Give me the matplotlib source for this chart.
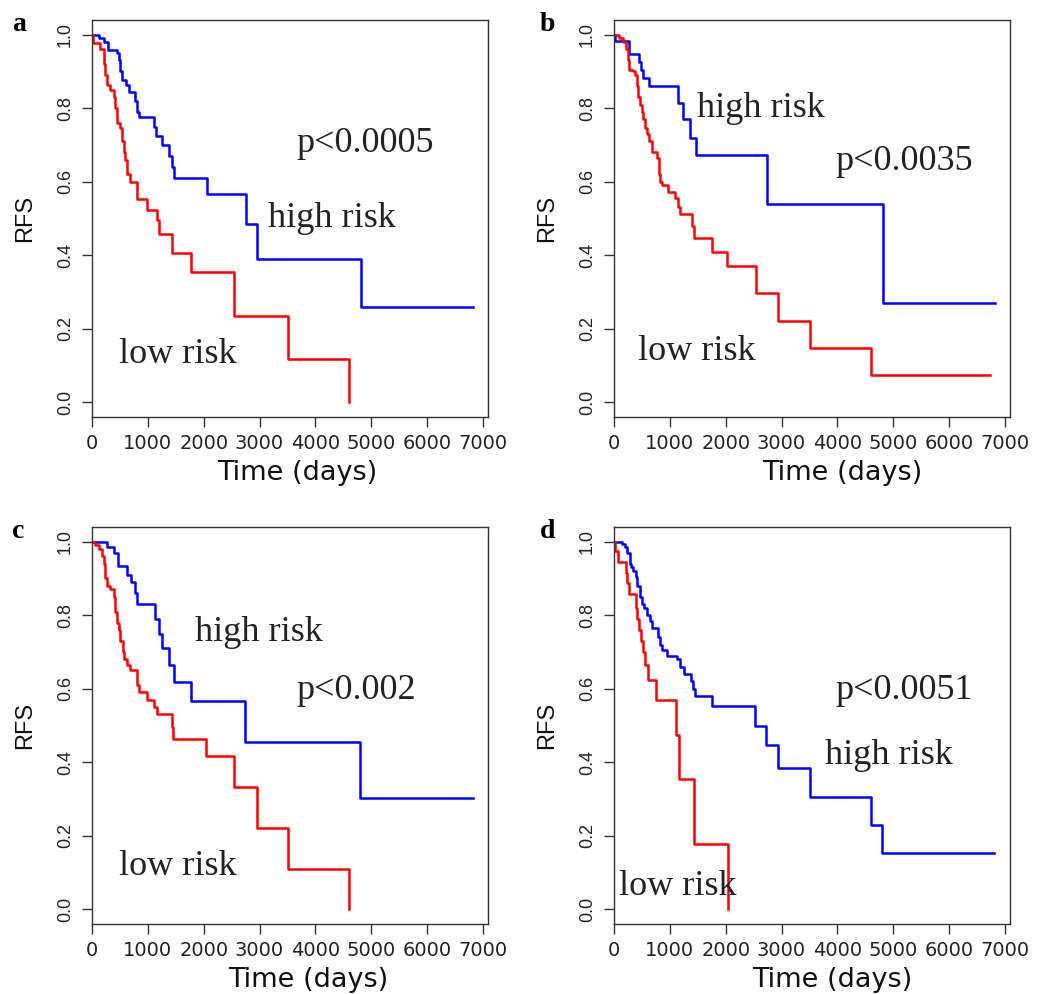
import matplotlib
matplotlib.use("Agg")
import matplotlib.pyplot as plt

# Kaplan-Meier step curves (time in days, RFS)
a_high_t = [0, 120, 210, 280, 447, 475, 505, 536, 600, 655, 775, 805, 834, 1102, 1144, 1250, 1370, 1430, 1470, 2055, 2752, 2949, 4813, 6821]
a_high_s = [1.0, 0.991, 0.98, 0.959, 0.95, 0.93, 0.90, 0.876, 0.863, 0.845, 0.82, 0.79, 0.775, 0.75, 0.725, 0.70, 0.67, 0.64, 0.61, 0.567, 0.485, 0.389, 0.26, 0.26]
a_low_t = [0, 10, 150, 210, 240, 268, 328, 387, 417, 447, 494, 536, 578, 595, 625, 685, 804, 983, 1162, 1191, 1430, 1775, 2550, 3515, 4605]
a_low_s = [1.0, 0.977, 0.96, 0.92, 0.89, 0.862, 0.85, 0.83, 0.80, 0.76, 0.745, 0.71, 0.68, 0.66, 0.62, 0.60, 0.552, 0.523, 0.495, 0.458, 0.407, 0.355, 0.236, 0.118, 0.0]

b_high_t = [0, 12, 274, 453, 483, 512, 631, 1150, 1239, 1364, 1465, 2734, 4818, 6813]
b_high_s = [1.0, 0.984, 0.948, 0.925, 0.905, 0.882, 0.86, 0.815, 0.77, 0.72, 0.672, 0.54, 0.27, 0.27]
b_low_t = [0, 95, 155, 214, 244, 274, 333, 375, 405, 435, 465, 494, 524, 560, 590, 631, 680, 762, 798, 822, 851, 971, 1084, 1137, 1185, 1405, 1435, 1763, 2031, 2537, 2936, 3508, 4604, 6724]
b_low_s = [1.0, 0.99, 0.98, 0.96, 0.93, 0.905, 0.90, 0.89, 0.86, 0.83, 0.81, 0.79, 0.77, 0.745, 0.73, 0.71, 0.68, 0.665, 0.62, 0.60, 0.59, 0.572, 0.555, 0.532, 0.512, 0.48, 0.447, 0.41, 0.37, 0.297, 0.222, 0.148, 0.074, 0.074]

c_high_t = [0, 268, 399, 459, 625, 697, 762, 804, 1132, 1191, 1251, 1370, 1471, 1775, 2740, 4807, 6821]
c_high_s = [1.0, 0.985, 0.97, 0.935, 0.91, 0.89, 0.86, 0.83, 0.79, 0.75, 0.71, 0.665, 0.618, 0.568, 0.455, 0.303, 0.303]
c_low_t = [0, 60, 119, 179, 208, 238, 268, 328, 387, 417, 447, 477, 506, 548, 578, 625, 685, 804, 834, 983, 1114, 1162, 1430, 1442, 2043, 2544, 2949, 3515, 4605]
c_low_s = [1.0, 0.99, 0.98, 0.96, 0.94, 0.90, 0.88, 0.87, 0.85, 0.81, 0.78, 0.76, 0.73, 0.70, 0.68, 0.665, 0.65, 0.61, 0.59, 0.57, 0.55, 0.53, 0.497, 0.462, 0.416, 0.333, 0.222, 0.11, 0.0]

d_high_t = [0, 149, 197, 238, 280, 310, 345, 387, 417, 459, 494, 536, 596, 637, 685, 792, 816, 852, 953, 1132, 1185, 1251, 1370, 1412, 1459, 1757, 2531, 2728, 2937, 3515, 4599, 4807, 6808]
d_high_s = [1.0, 0.994, 0.985, 0.97, 0.94, 0.93, 0.92, 0.905, 0.88, 0.85, 0.83, 0.82, 0.80, 0.785, 0.766, 0.74, 0.72, 0.705, 0.69, 0.68, 0.66, 0.64, 0.62, 0.60, 0.58, 0.553, 0.50, 0.446, 0.385, 0.305, 0.23, 0.153, 0.153]
d_low_t = [0, 12, 77, 208, 238, 268, 387, 417, 447, 477, 518, 554, 613, 756, 1102, 1161, 1441, 2043]
d_low_s = [1.0, 0.975, 0.945, 0.915, 0.887, 0.857, 0.82, 0.79, 0.76, 0.73, 0.70, 0.665, 0.625, 0.57, 0.475, 0.355, 0.178, 0.0]

panel_letters = ["a", "b", "c", "d"]
p_texts = ["p<0.0005", "p<0.0035", "p<0.002", "p<0.0051"]
# label anchor positions (days, RFS): p-value, high risk, low risk
p_pos = [(3660, 0.681), (3960, 0.631), (3660, 0.573), (3960, 0.573)]
high_pos = [(3160, 0.477), (1490, 0.776), (1850, 0.73), (3780, 0.394)]
low_pos = [(490, 0.108), (430, 0.115), (490, 0.093), (90, 0.038)]

curves = [
    (a_high_t, a_high_s, a_low_t, a_low_s),
    (b_high_t, b_high_s, b_low_t, b_low_s),
    (c_high_t, c_high_s, c_low_t, c_low_s),
    (d_high_t, d_high_s, d_low_t, d_low_s),
]

W, H = 1038, 994
fig = plt.figure(figsize=(W / 100, H / 100), dpi=100)

# axes boxes in pixels: left, top, right, bottom
boxes = [(92, 20, 488, 417), (614, 20, 1010, 417), (92, 527, 488, 924), (614, 527, 1010, 924)]
letter_pos = [(12, 31), (540, 31), (12, 538), (540, 538)]
xlabel_x = [0.518, 0.576, 0.545, 0.55]

sans = "Liberation Sans"
wide = "DejaVu Sans"
serif = "Liberation Serif"
spine_col = "#333333"

for i in range(4):
    l, t, r, b = boxes[i]
    ax = fig.add_axes([l / W, (H - b) / H, (r - l) / W, (b - t) / H])
    ht, hs, lt, ls = curves[i]
    ax.step(ht, hs, where="post", color="blue", lw=1.8)
    ax.step(lt, ls, where="post", color="red", lw=1.8)

    ax.set_xlim(0, 7090)
    ax.set_ylim(-0.04, 1.04)
    ax.set_xticks(range(0, 7001, 1000))
    ax.set_yticks([0, 0.2, 0.4, 0.6, 0.8, 1.0])
    ax.set_yticklabels(["0.0", "0.2", "0.4", "0.6", "0.8", "1.0"], rotation=90, va="center")
    ax.tick_params(axis="both", direction="out", length=7, width=1, color=spine_col,
                   labelcolor="#222222")
    ax.tick_params(axis="x", pad=5, labelsize=14)
    ax.tick_params(axis="y", pad=6, labelsize=13)
    for lab in ax.get_xticklabels():
        lab.set_fontfamily(wide)
    for lab in ax.get_yticklabels():
        lab.set_fontfamily(sans)
    for sp in ax.spines.values():
        sp.set_color(spine_col)
        sp.set_linewidth(1.0)

    ax.text(xlabel_x[i], -0.142, "Time (days)", transform=ax.transAxes, ha="center", va="center",
            fontsize=19.5, family=wide, color="#111111")
    ax.text(-0.17, 0.5, "RFS", transform=ax.transAxes, ha="center", va="center",
            rotation=90, fontsize=17, family=sans, color="#111111")

    ax.text(p_pos[i][0], p_pos[i][1], p_texts[i], ha="left", va="baseline",
            fontsize=26, family=serif, color="#222222")
    ax.text(high_pos[i][0], high_pos[i][1], "high risk", ha="left", va="baseline",
            fontsize=26, family=serif, color="#222222")
    ax.text(low_pos[i][0], low_pos[i][1], "low risk", ha="left", va="baseline",
            fontsize=26, family=serif, color="#222222")

    fig.text(letter_pos[i][0] / W, 1 - letter_pos[i][1] / H, panel_letters[i],
             ha="left", va="baseline", fontsize=20, fontweight="bold", family=serif)

fig.savefig("out.png", dpi=100)
